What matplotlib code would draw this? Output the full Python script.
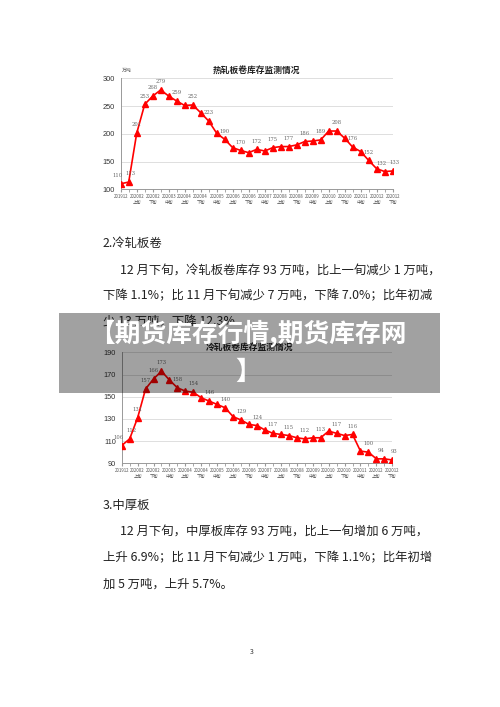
import matplotlib
matplotlib.use("Agg")
import matplotlib.pyplot as plt
from matplotlib.patches import Rectangle

plt.rcParams['font.family'] = ['Noto Sans CJK SC', 'DejaVu Sans']

# ---- data ----
hot_values = [110, 113, 201, 253, 268, 279, 268, 259, 251, 252, 238, 223, 201, 190,
              175, 170, 166, 172, 169, 175, 177, 177, 180, 186, 187, 189, 205, 205,
              192, 176, 168, 152, 137, 132, 133]
hot_labels = [110, 113, 201, 253, 268, 279, None, 259, None, 252, None, 223, None, 190,
              None, 170, None, 172, None, 175, None, 177, None, 186, None, 189, None, 208,
              None, 176, None, 152, None, 132, 133]
cold_values = [106, 112, 131, 157, 166, 173, 165, 158, 155, 154, 149, 146, 143, 140,
               132, 129, 125, 124, 120, 117, 116, 115, 113, 112, 113, 113, 119, 117,
               115, 116, 101, 100, 94, 94, 93]
cold_labels = [106, 112, 131, 157, 166, 173, None, 158, None, 154, None, 146, None, 140,
               None, 129, None, 124, None, 117, None, 115, None, 112, None, 113, None, 117,
               None, 116, None, 100, None, 94, 93]
tick_labels = ["201912", "202002\n上旬", "202002\n下旬", "202003\n中旬", "202004\n上旬",
               "202004\n下旬", "202005\n中旬", "202006\n上旬", "202006\n下旬", "202007\n中旬",
               "202008\n上旬", "202008\n下旬", "202009\n中旬", "202010\n上旬", "202010\n下旬",
               "202011\n中旬", "202012\n上旬", "202012\n下旬"]
hot_yticks = [100, 150, 200, 250, 300]
cold_yticks = [90, 110, 130, 150, 170, 190]

W, H = 500, 707
fig = plt.figure(figsize=(W / 100, H / 100), dpi=100)
fig.patch.set_facecolor('white')


def px(x0, ytop, x1, ybot):
    return [x0 / W, (H - ybot) / H, (x1 - x0) / W, (ybot - ytop) / H]


def draw_chart(rect, values, labels, yticks):
    ax = fig.add_axes(rect)
    n = len(values)
    xs = list(range(n))
    ax.plot(xs, values, color='#ff0000', lw=1.2, marker='^', ms=4, zorder=3)
    for i, lab in enumerate(labels):
        if lab is None:
            continue
        dx = 0
        if i == 0:
            dx = -2.5
        elif i == 1:
            dx = 1.5
        elif i == n - 2:
            dx = -2.5
        elif i == n - 1:
            dx = 1.5
        ax.annotate(str(lab), (i, values[i]), xytext=(dx, 6), textcoords='offset points',
                    ha='center', va='center', fontsize=3.8, color='#666666',
                    family=['DejaVu Serif'])
    ax.set_xlim(0, n - 1)
    ax.set_ylim(yticks[0], yticks[-1])
    ax.set_yticks(yticks)
    ax.set_yticklabels([str(t) for t in yticks], fontsize=5.3, color='#333333',
                       family=['Liberation Sans'])
    ax.set_xticks(list(range(0, n, 2)))
    ax.set_xticklabels(tick_labels, fontsize=3.1, color='#555555', linespacing=1.1)
    ax.set_xticks(xs, minor=True)
    ax.tick_params(axis='x', which='both', length=2, color='#999999', pad=1.5)
    ax.tick_params(axis='y', length=0, pad=4)
    ax.grid(axis='y', color='#d9d9d9', lw=0.6)
    ax.set_axisbelow(True)
    for s in ['top', 'right']:
        ax.spines[s].set_visible(False)
    for s in ['left', 'bottom']:
        ax.spines[s].set_color('#999999')
        ax.spines[s].set_linewidth(0.7)
    return ax


ax1 = draw_chart(px(120.7, 78.3, 392.7, 189.3), hot_values, hot_labels, hot_yticks)
ax2 = draw_chart(px(121.7, 352.3, 392.3, 463.3), cold_values, cold_labels, cold_yticks)


def ftext(x, y, s, **kw):
    fig.text(x / W, 1 - y / H, s, **kw)


# chart titles
ftext(256, 71, "热轧板卷库存监测情况", ha='center', va='center', fontsize=6.3,
      fontweight='bold', color='#222222')
ftext(122, 70, "万吨", ha='left', va='center', fontsize=3.5, color='#555555')
ftext(250, 347, "冷轧板卷库存监测情况", ha='center', va='center', fontsize=6.3,
      fontweight='bold', color='#222222')

# body text
body_kw = dict(ha='left', va='center', fontsize=8.9, color='#222222')
ftext(103, 243, "2.冷轧板卷", **body_kw)
ftext(120, 270, "12 月下旬，冷轧板卷库存 93 万吨，比上一旬减少 1 万吨，", **body_kw)
ftext(103, 296, "下降 1.1%；比 11 月下旬减少 7 万吨，下降 7.0%；比年初减", **body_kw)
ftext(103, 321, "少 13 万吨，下降 12.3%", **body_kw)

ftext(103, 505, "3.中厚板", **body_kw)
ftext(120, 531, "12 月下旬，中厚板库存 93 万吨，比上一旬增加 6 万吨，", **body_kw)
ftext(103, 558, "上升 6.9%；比 11 月下旬减少 1 万吨，下降 1.1%；比年初增", **body_kw)
ftext(103, 584, "加 5 万吨，上升 5.7%。", **body_kw)

ftext(252, 652, "3", ha='center', va='center', fontsize=5, color='#333333')

# overlay banner
fig.patches.append(Rectangle((59 / W, 1 - 393 / H), (440 - 59) / W, 80 / H,
                             transform=fig.transFigure, facecolor='black', alpha=0.37,
                             edgecolor='none', zorder=10))
ftext(248, 333, "【期货库存行情,期货库存网", ha='center', va='center', fontsize=18.5,
      fontweight='bold', color='white', zorder=11)
ftext(248, 372, "】", ha='center', va='center', fontsize=18.5,
      fontweight='bold', color='white', zorder=11)

fig.savefig("out.png", dpi=100, facecolor='white')
